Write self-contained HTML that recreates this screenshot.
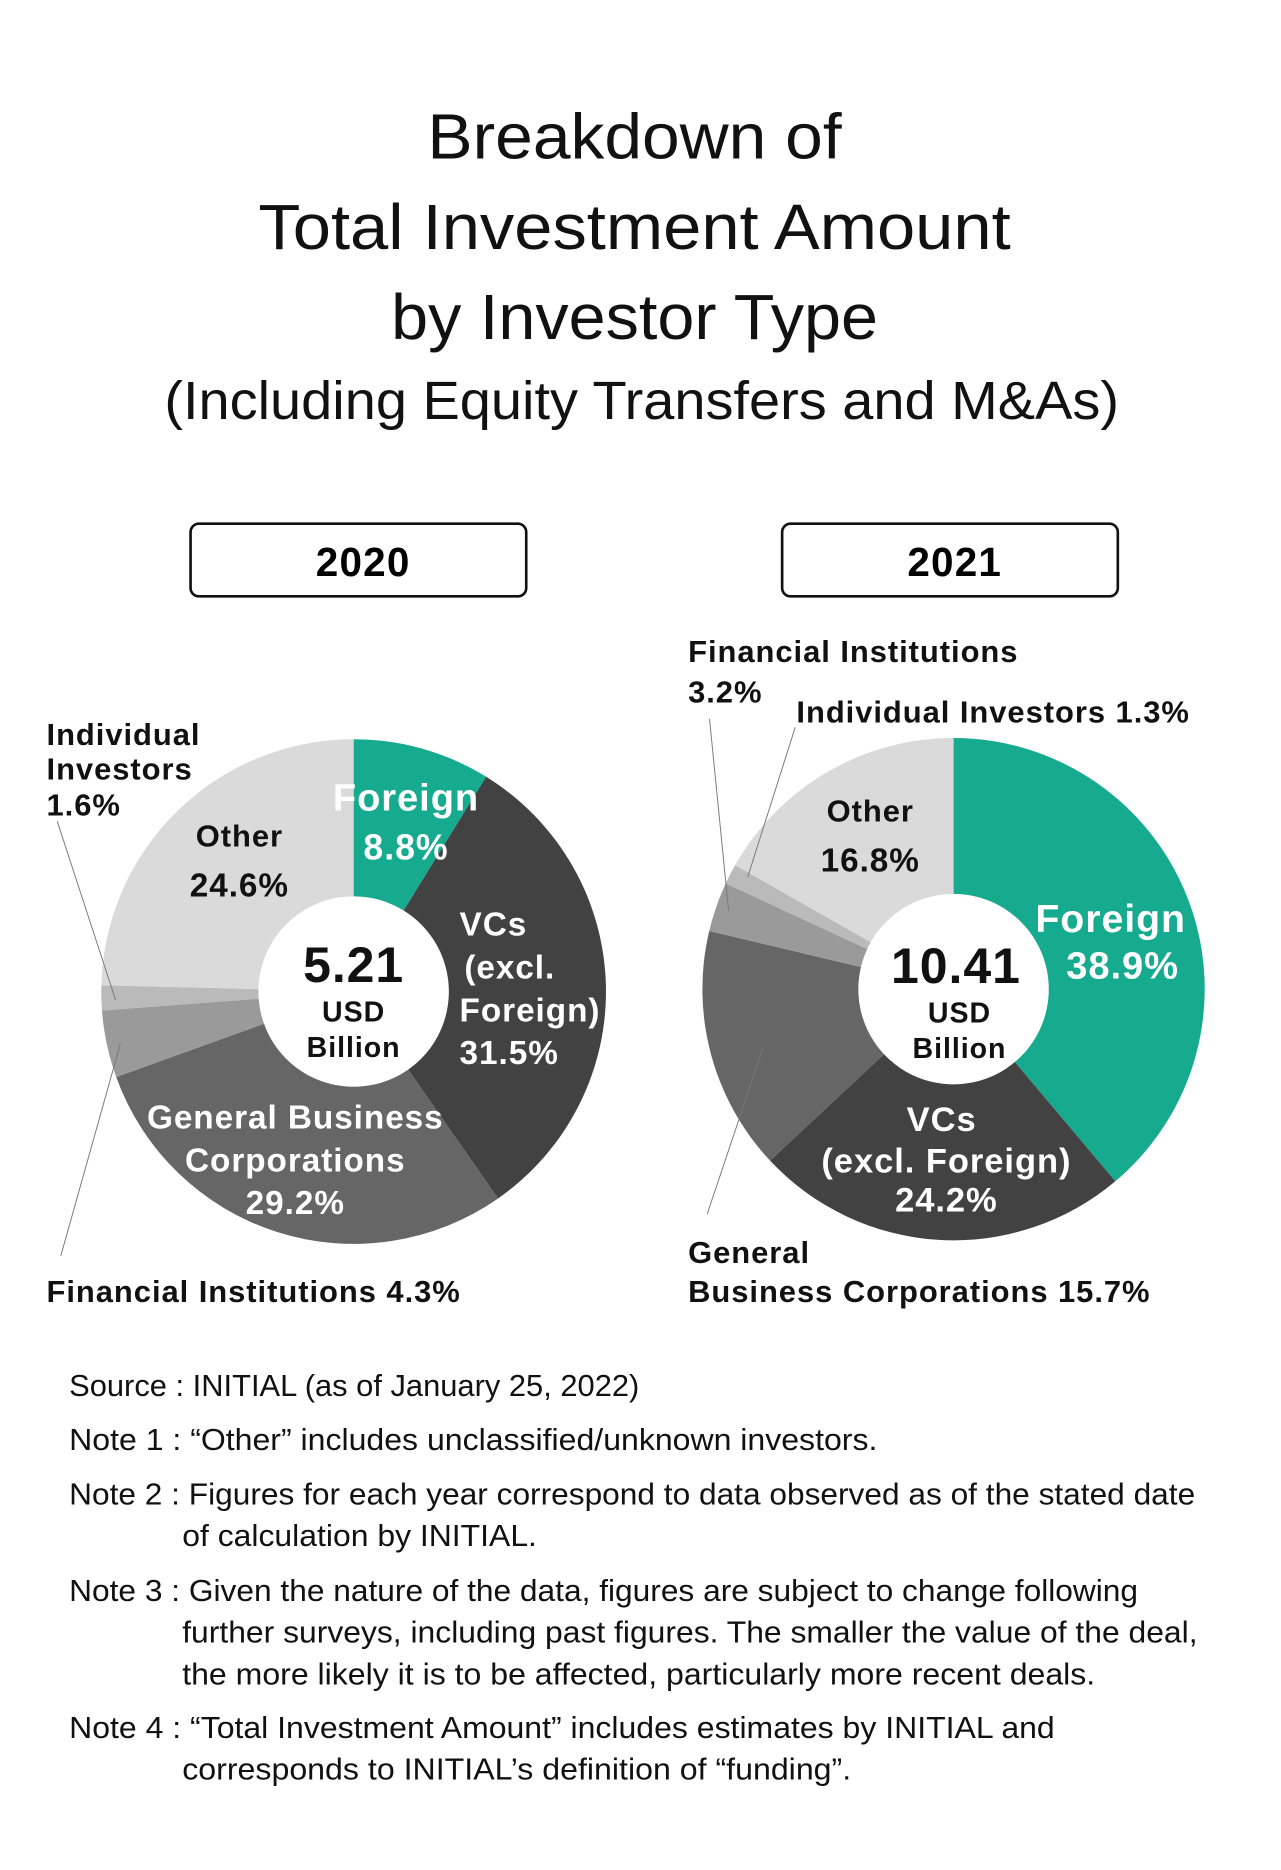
<!DOCTYPE html>
<html><head><meta charset="utf-8"><style>
html,body{margin:0;padding:0;background:#fff;}
svg{display:block;font-family:"Liberation Sans",sans-serif;}
.lbl{font-weight:bold;font-size:26px;letter-spacing:0.8px;}
.note{font-size:25.5px;fill:#111;}
</style></head><body>
<svg id="chart" width="1281" height="1870" viewBox="0 0 1076 1571" xmlns="http://www.w3.org/2000/svg">
<rect width="1076" height="1571" fill="#fff"/>
<g text-anchor="middle" fill="#111">
<text x="533" y="133" font-size="54" textLength="348" lengthAdjust="spacingAndGlyphs">Breakdown of</text>
<text x="533" y="209" font-size="54" textLength="632" lengthAdjust="spacingAndGlyphs">Total Investment Amount</text>
<text x="533" y="285" font-size="54" textLength="409" lengthAdjust="spacingAndGlyphs">by Investor Type</text>
<text x="539" y="352" font-size="45" textLength="802" lengthAdjust="spacingAndGlyphs">(Including Equity Transfers and M&amp;As)</text>
</g>
<g>
<rect x="160" y="440" width="282" height="61" rx="7" fill="#fff" stroke="#111" stroke-width="2.2"/>
<text x="305" y="484" font-size="34" text-anchor="middle" font-weight="bold" letter-spacing="1">2020</text>
</g>
<g>
<rect x="657" y="440" width="282" height="61" rx="7" fill="#fff" stroke="#111" stroke-width="2.2"/>
<text x="802" y="484" font-size="34" text-anchor="middle" font-weight="bold" letter-spacing="1">2021</text>
</g>
<g id="pie2020"></g>
<g id="pie2021"></g>

<g stroke="#777" stroke-width="0.8" fill="none">
<line x1="48" y1="690" x2="97" y2="840"/>
<line x1="51" y1="1055" x2="101" y2="877"/>
<line x1="596" y1="604" x2="612" y2="765"/>
<line x1="668" y1="611" x2="628" y2="737"/>
<line x1="594" y1="1020" x2="641" y2="880"/>
</g>

<g class="lbl">
<text x="39" y="626" fill="#111">Individual</text>
<text x="39" y="655" fill="#111">Investors</text>
<text x="39" y="685" fill="#111">1.6%</text>
<text x="201" y="711" fill="#111" text-anchor="middle">Other</text>
<text x="201" y="753" fill="#111" text-anchor="middle" font-size="28">24.6%</text>
<text x="341" y="681" fill="#fff" text-anchor="middle" font-size="32">Foreign</text>
<text x="341" y="722" fill="#fff" text-anchor="middle" font-size="30">8.8%</text>
<text x="386" y="786" fill="#fff" font-size="28">VCs</text>
<text x="390" y="822" fill="#fff" font-size="28">(excl.</text>
<text x="386" y="858" fill="#fff" font-size="28">Foreign)</text>
<text x="386" y="894" fill="#fff" font-size="28">31.5%</text>
<text x="248" y="948" fill="#fff" text-anchor="middle" font-size="28">General Business</text>
<text x="248" y="984" fill="#fff" text-anchor="middle" font-size="28">Corporations</text>
<text x="248" y="1020" fill="#fff" text-anchor="middle" font-size="28">29.2%</text>
<text x="39" y="1094" fill="#111">Financial Institutions 4.3%</text>
<text x="297" y="825" fill="#111" text-anchor="middle" font-size="42">5.21</text>
<text x="297" y="858" fill="#111" text-anchor="middle" font-size="24">USD</text>
<text x="297" y="888" fill="#111" text-anchor="middle" font-size="24">Billion</text>
</g>
<g class="lbl">
<text x="578" y="556" fill="#111">Financial Institutions</text>
<text x="578" y="590" fill="#111">3.2%</text>
<text x="669" y="607" fill="#111">Individual Investors 1.3%</text>
<text x="731" y="690" fill="#111" text-anchor="middle">Other</text>
<text x="731" y="732" fill="#111" text-anchor="middle" font-size="28">16.8%</text>
<text x="933" y="783" fill="#fff" text-anchor="middle" font-size="33">Foreign</text>
<text x="943" y="822" fill="#fff" text-anchor="middle" font-size="32">38.9%</text>
<text x="791" y="950" fill="#fff" text-anchor="middle" font-size="29">VCs</text>
<text x="795" y="985" fill="#fff" text-anchor="middle" font-size="29">(excl. Foreign)</text>
<text x="795" y="1018" fill="#fff" text-anchor="middle" font-size="29">24.2%</text>
<text x="578" y="1061" fill="#111">General</text>
<text x="578" y="1094" fill="#111">Business Corporations 15.7%</text>
<text x="803" y="826" fill="#111" text-anchor="middle" font-size="42">10.41</text>
<text x="806" y="859" fill="#111" text-anchor="middle" font-size="24">USD</text>
<text x="806" y="889" fill="#111" text-anchor="middle" font-size="24">Billion</text>
</g>

<g class="note">
<text x="58" y="1173" textLength="479" lengthAdjust="spacingAndGlyphs">Source : INITIAL (as of January 25, 2022)</text>
<text x="58" y="1218" textLength="679" lengthAdjust="spacingAndGlyphs">Note 1 : “Other” includes unclassified/unknown investors.</text>
<text x="58" y="1264" textLength="946" lengthAdjust="spacingAndGlyphs">Note 2 : Figures for each year correspond to data observed as of the stated date</text>
<text x="153" y="1299" textLength="298" lengthAdjust="spacingAndGlyphs">of calculation by INITIAL.</text>
<text x="58" y="1345" textLength="898" lengthAdjust="spacingAndGlyphs">Note 3 : Given the nature of the data, figures are subject to change following</text>
<text x="153" y="1380" textLength="853" lengthAdjust="spacingAndGlyphs">further surveys, including past figures. The smaller the value of the deal,</text>
<text x="153" y="1415" textLength="767" lengthAdjust="spacingAndGlyphs">the more likely it is to be affected, particularly more recent deals.</text>
<text x="58" y="1460" textLength="828" lengthAdjust="spacingAndGlyphs">Note 4 : “Total Investment Amount” includes estimates by INITIAL and</text>
<text x="153" y="1495" textLength="562" lengthAdjust="spacingAndGlyphs">corresponds to INITIAL’s definition of “funding”.</text>
</g>
</svg>
<script>
const categories = ["Foreign","VCs (excl. Foreign)","General Business Corporations","Financial Institutions","Individual Investors","Other"];
const values2020 = [8.8, 31.5, 29.2, 4.3, 1.6, 24.6];
const values2021 = [38.9, 24.2, 15.7, 3.2, 1.3, 16.8];
const sliceColors = ["#16ab8f","#424242","#666666","#9a9a9a","#bababa","#dadada"];
const NS = "http://www.w3.org/2000/svg";
function angleOf(frac){ return frac*2*Math.PI - Math.PI/2; }
function drawDonut(gid, values, cx, cy, r, ri){
  const g = document.getElementById(gid);
  const total = values.reduce((a,b)=>a+b,0);
  let acc = 0;
  values.forEach((v,i)=>{
    const a0 = angleOf(acc/total), a1 = angleOf((acc+v)/total);
    acc += v;
    const large = (a1-a0) > Math.PI ? 1 : 0;
    const d = `M${cx} ${cy} L${cx+r*Math.cos(a0)} ${cy+r*Math.sin(a0)} A${r} ${r} 0 ${large} 1 ${cx+r*Math.cos(a1)} ${cy+r*Math.sin(a1)} Z`;
    const p = document.createElementNS(NS,"path");
    p.setAttribute("d", d);
    p.setAttribute("fill", sliceColors[i]);
    
    
    g.appendChild(p);
  });
  const c = document.createElementNS(NS,"circle");
  c.setAttribute("cx", cx); c.setAttribute("cy", cy); c.setAttribute("r", ri);
  c.setAttribute("fill", "#fff");
  
  
  g.appendChild(c);
}
drawDonut("pie2020", values2020, 297, 833, 212, 80);
drawDonut("pie2021", values2021, 801, 831, 211, 80);
</script>
</body></html>
